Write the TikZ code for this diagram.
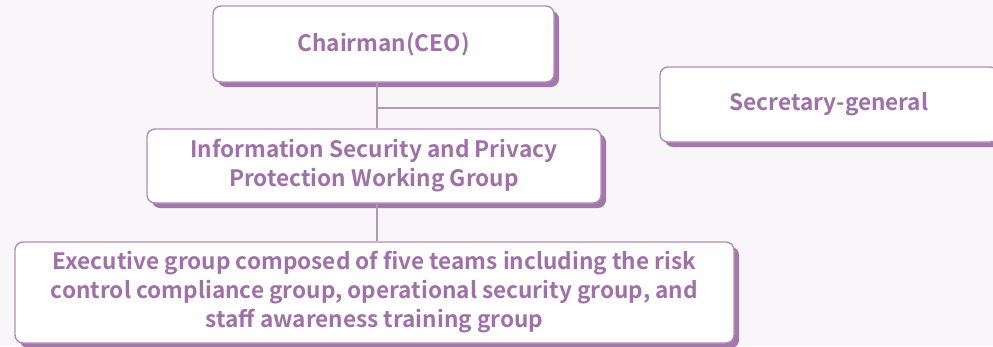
\documentclass[tikz,border=0pt]{standalone}
\usepackage{fontspec}
\setmainfont{Noto Sans CJK KR}[BoldFont={Noto Sans CJK KR Bold}]
\usetikzlibrary{shadows}

\definecolor{bgcol}{HTML}{F8F6F9}
\definecolor{boxline}{HTML}{B38CB9}
\definecolor{boxshadow}{HTML}{A377AB}
\definecolor{labelcol}{HTML}{A070A8}
\definecolor{linkcol}{HTML}{B794BC}

\begin{document}
\begin{tikzpicture}[
    % One unit is one pixel of the reference, y runs downwards.
    x={(1pt,0pt)},
    y={(0pt,-1pt)}
]
    % --- Style Definitions ---
    % 'orgbox' is a white rounded box with a solid purple shadow.
    % 'link' is the thin line between the boxes.
    \tikzstyle{orgbox} = [draw=boxline, line width=1.4pt, fill=white,
        rounded corners=8pt, inner sep=0pt, align=center,
        text=labelcol, font=\fontsize{22.6}{29}\selectfont\bfseries,
        general shadow={fill=boxshadow, shadow xshift=5pt, shadow yshift=-5pt}]
    \tikzstyle{link} = [draw=linkcol, line width=1.5pt]

    % --- Background ---
    \path[use as bounding box, fill=bgcol] (0,0) rectangle (993,346);

    % --- Boxes ---
    \node[orgbox, minimum width=341pt, minimum height=76pt] (chair) at (383.5,44)
        {Chairman(CEO)};
    \node[orgbox, minimum width=338pt, minimum height=75pt] (sec) at (829,104.5)
        {Secretary-general};
    \node[orgbox, minimum width=454pt, minimum height=74pt] (wgroup) at (374,166)
        {Information Security and Privacy\\Protection Working Group};
    \node[orgbox, minimum width=719pt, minimum height=101pt] (exec) at (374.5,292.5)
        {Executive group composed of five teams including the risk\\
         control compliance group, operational security group, and\\
         staff awareness training group};

    % --- Links ---
    % The trunk runs down at x = 377, the branch to the right leaves at y = 108.
    \coordinate (jct) at (377,108);
    \draw[link] (jct |- chair.south) -- (jct |- wgroup.north);
    \draw[link] (jct) -- (jct -| sec.west);
    \draw[link] (jct |- wgroup.south) -- (jct |- exec.north);
\end{tikzpicture}
\end{document}
